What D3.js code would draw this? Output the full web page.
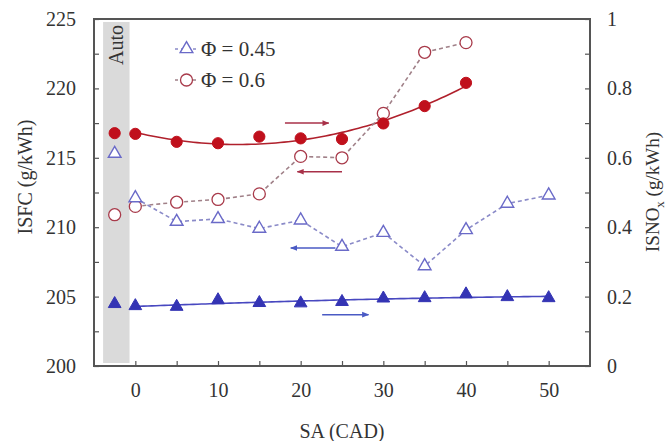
<!DOCTYPE html>
<html>
<head>
<meta charset="utf-8">
<script src="https://cdn.jsdelivr.net/npm/d3@7"></script>
<style>
  html, body { margin: 0; padding: 0; background: #fff; }
  svg { display: block; }
  text { font-family: "Liberation Serif", "Times New Roman", "DejaVu Serif", serif; fill: #333; }
</style>
</head>
<body>
<svg id="chart" width="666" height="441"></svg>
<script>
// ---------------- data ----------------
const saValues = [0, 5, 10, 15, 20, 25, 30, 35, 40, 45, 50];
const autoSA = -2.5;

// ISFC (left axis, g/kWh), open markers
const isfc045 = [212.1, 210.4, 210.6, 209.9, 210.5, 208.6, 209.6, 207.2, 209.8, 211.7, 212.3];
const isfc06  = [211.5, 211.8, 212.0, 212.4, 215.1, 215.0, 218.2, 222.6, 223.3];
const isfcAuto045 = 215.3;
const isfcAuto06  = 210.9;

// ISNOx (right axis, g/kWh), filled markers
const nox045 = [0.173, 0.171, 0.190, 0.182, 0.181, 0.185, 0.195, 0.196, 0.207, 0.199, 0.196];
const nox06  = [0.669, 0.646, 0.642, 0.661, 0.656, 0.654, 0.699, 0.749, 0.816];
const noxAuto045 = 0.179;
const noxAuto06  = 0.671;

const xTicks = [0, 10, 20, 30, 40, 50];
const leftTicks = [200, 205, 210, 215, 220, 225];
const rightTicks = [0, 0.2, 0.4, 0.6, 0.8, 1];
const legendLabels = ["\u03A6 = 0.45", "\u03A6 = 0.6"];

// ---------------- layout ----------------
const FONT = "'Liberation Serif','Times New Roman','DejaVu Serif',serif";
const svg = d3.select("#chart");
const L = 94, R = 590, T = 19, B = 366;
const x = d3.scaleLinear().domain([-5, 55]).range([L, R]);
const yL = d3.scaleLinear().domain([200, 225]).range([B, T]);
const yR = d3.scaleLinear().domain([0, 1]).range([B, T]);

const red = "#c0101c", redDark = "#a83a4a", redDash = "#a08088";
const blue = "#3434b4", blueOpen = "#6a6ac8", blueDash = "#8a8ac8";

// Auto band
svg.append("rect")
  .attr("x", x(-3.9)).attr("y", T + 3)
  .attr("width", x(-0.7) - x(-3.9)).attr("height", B - T - 6)
  .attr("fill", "#dadada");
svg.append("text")
  .attr("transform", `translate(${x(-2.3)},${45}) rotate(-90)`)
  .attr("text-anchor", "middle").attr("dominant-baseline", "central")
  .style("font-size", "20px").style("font-family", FONT).style("fill", "#333")
  .text("Auto");

// axes
const fmtLeft = d => (d % 5 === 0 ? d3.format("d")(d) : "");
const gL = svg.append("g").attr("transform", `translate(${L},0)`)
  .call(d3.axisLeft(yL).tickValues(d3.range(200, 225.01, 2.5)).tickSize(-5).tickPadding(18).tickFormat(fmtLeft));
const fmtRight = d => {
  const r = Math.round(d * 10);
  if (r % 2 !== 0) return "";
  return d === 0 ? "0" : d === 1 ? "1" : d3.format(".1f")(d);
};
const gR = svg.append("g").attr("transform", `translate(${R},0)`)
  .call(d3.axisRight(yR).tickValues(d3.range(0, 1.001, 0.1)).tickSize(-5).tickPadding(17).tickFormat(fmtRight));
const gB = svg.append("g").attr("transform", `translate(0,${B})`)
  .call(d3.axisBottom(x).tickValues(d3.range(0, 50.01, 5)).tickSize(-5).tickPadding(17)
    .tickFormat(d => (d % 10 === 0 ? d3.format("d")(d) : "")));
[gL, gR, gB].forEach(g => {
  g.attr("font-family", null);
  g.select(".domain").remove();
  g.selectAll(".tick line").attr("stroke", "#555").attr("stroke-width", 1.2);
  g.selectAll(".tick text").style("font-size", "20px").style("fill", "#333")
    .style("font-family", FONT);
});

// frame
svg.append("rect").attr("x", L).attr("y", T).attr("width", R - L).attr("height", B - T)
  .attr("fill", "none").attr("stroke", "#555").attr("stroke-width", 2);

// axis titles
svg.append("text").attr("x", (L + R) / 2).attr("y", 431)
  .attr("text-anchor", "middle").attr("dominant-baseline", "central")
  .style("font-size", "20px").style("font-family", FONT).text("SA (CAD)");
svg.append("text").attr("transform", `translate(25,177) rotate(-90)`)
  .attr("text-anchor", "middle").attr("dominant-baseline", "central")
  .style("font-size", "20px").style("font-family", FONT).text("ISFC (g/kWh)");
const rt = svg.append("text").attr("transform", `translate(652,192) rotate(-90)`)
  .attr("text-anchor", "middle").attr("dominant-baseline", "central")
  .style("font-size", "19px").style("font-family", FONT);
rt.append("tspan").text("ISNO");
rt.append("tspan").attr("baseline-shift", "sub").style("font-size", "13px").text("x");
rt.append("tspan").text(" (g/kWh)");

// ---------------- least squares fit (trend lines) ----------------
function polyFit(xs, ys, deg) {
  const n = deg + 1;
  const A = Array.from({length: n}, () => new Array(n + 1).fill(0));
  xs.forEach((xv, i) => {
    for (let r = 0; r < n; r++) {
      for (let c = 0; c < n; c++) A[r][c] += Math.pow(xv, r + c);
      A[r][n] += ys[i] * Math.pow(xv, r);
    }
  });
  for (let i = 0; i < n; i++) {
    let p = i;
    for (let k = i + 1; k < n; k++) if (Math.abs(A[k][i]) > Math.abs(A[p][i])) p = k;
    [A[i], A[p]] = [A[p], A[i]];
    for (let k = i + 1; k < n; k++) {
      const f = A[k][i] / A[i][i];
      for (let c = i; c <= n; c++) A[k][c] -= f * A[i][c];
    }
  }
  const coef = new Array(n).fill(0);
  for (let i = n - 1; i >= 0; i--) {
    let s = A[i][n];
    for (let c = i + 1; c < n; c++) s -= A[i][c] * coef[c];
    coef[i] = s / A[i][i];
  }
  return xv => coef.reduce((acc, cf, k) => acc + cf * Math.pow(xv, k), 0);
}

const sa06 = saValues.slice(0, nox06.length);
const fit06 = polyFit(sa06, nox06, 2);
const fit045 = polyFit(saValues, nox045, 2);
const line = d3.line().x(d => d[0]).y(d => d[1]);
const sampleX = (a, b) => d3.range(a, b + 0.001, 0.5);

svg.append("path")
  .attr("d", line(sampleX(0, 40).map(s => [x(s), yR(fit06(s))])))
  .attr("fill", "none").attr("stroke", "#b0202c").attr("stroke-width", 1.6);
svg.append("path")
  .attr("d", line(sampleX(0, 50).map(s => [x(s), yR(fit045(s))])))
  .attr("fill", "none").attr("stroke", "#4848c0").attr("stroke-width", 1.6);

// dashed ISFC lines
svg.append("path")
  .attr("d", line(isfc06.map((v, i) => [x(saValues[i]), yL(v)])))
  .attr("fill", "none").attr("stroke", redDash).attr("stroke-width", 1.6).attr("stroke-dasharray", "4,3");
svg.append("path")
  .attr("d", line(isfc045.map((v, i) => [x(saValues[i]), yL(v)])))
  .attr("fill", "none").attr("stroke", blueDash).attr("stroke-width", 1.6).attr("stroke-dasharray", "4,3");

// markers
const tri = d3.symbol().type(d3.symbolTriangle).size(70);
function openTri(px, py) {
  svg.append("path").attr("d", tri).attr("transform", `translate(${px},${py})`)
    .attr("fill", "#fff").attr("stroke", blueOpen).attr("stroke-width", 1.4);
}
function fillTri(px, py) {
  svg.append("path").attr("d", tri).attr("transform", `translate(${px},${py})`)
    .attr("fill", blue).attr("stroke", blue).attr("stroke-width", 1);
}
function openCirc(px, py) {
  svg.append("circle").attr("cx", px).attr("cy", py).attr("r", 6)
    .attr("fill", "#fff").attr("stroke", redDark).attr("stroke-width", 1.3);
}
function fillCirc(px, py) {
  svg.append("circle").attr("cx", px).attr("cy", py).attr("r", 5.6)
    .attr("fill", red).attr("stroke", red).attr("stroke-width", 1);
}

isfc06.forEach((v, i) => openCirc(x(saValues[i]), yL(v)));
isfc045.forEach((v, i) => openTri(x(saValues[i]), yL(v)));
nox06.forEach((v, i) => fillCirc(x(saValues[i]), yR(v)));
nox045.forEach((v, i) => fillTri(x(saValues[i]), yR(v)));

openCirc(x(autoSA), yL(isfcAuto06));
openTri(x(autoSA), yL(isfcAuto045));
fillCirc(x(autoSA), yR(noxAuto06));
fillTri(x(autoSA), yR(noxAuto045));

// arrows (direction to the axis each series belongs to)
const defs = svg.append("defs");
function arrowHead(id, color) {
  defs.append("marker").attr("id", id).attr("viewBox", "0 0 10 10")
    .attr("refX", 9).attr("refY", 5).attr("markerWidth", 7).attr("markerHeight", 7)
    .attr("markerUnits", "userSpaceOnUse").attr("orient", "auto")
    .append("path").attr("d", "M0,1 L10,5 L0,9 z").attr("fill", color);
}
arrowHead("ahRed", "#a83048");
arrowHead("ahBlue", "#4a5ac4");
function arrow(x0, x1, yv, color, id) {
  svg.append("line").attr("x1", x(x0)).attr("x2", x(x1)).attr("y1", yL(yv)).attr("y2", yL(yv))
    .attr("stroke", color).attr("stroke-width", 1.5).attr("marker-end", `url(#${id})`);
}
arrow(18.1, 23.4, 217.5, "#a83048", "ahRed");
arrow(25.0, 19.6, 214.0, "#a83048", "ahRed");
arrow(24.2, 18.8, 208.5, "#4a5ac4", "ahBlue");
arrow(22.6, 28.2, 203.7, "#4a5ac4", "ahBlue");

// legend
const legY = [49, 80];
legendLabels.forEach((lab, i) => {
  const g = svg.append("g");
  g.append("line").attr("x1", 175).attr("x2", 198).attr("y1", legY[i]).attr("y2", legY[i])
    .attr("stroke", i === 0 ? blueDash : redDash).attr("stroke-width", 1.6).attr("stroke-dasharray", "3,3");
  if (i === 0) openTri(186.5, legY[i]); else openCirc(186.5, legY[i]);
  g.append("text").attr("x", 201).attr("y", legY[i]).attr("dominant-baseline", "central")
    .style("font-size", "21px").style("font-family", FONT).style("fill", "#333").text(lab);
});
</script>
</body>
</html>
